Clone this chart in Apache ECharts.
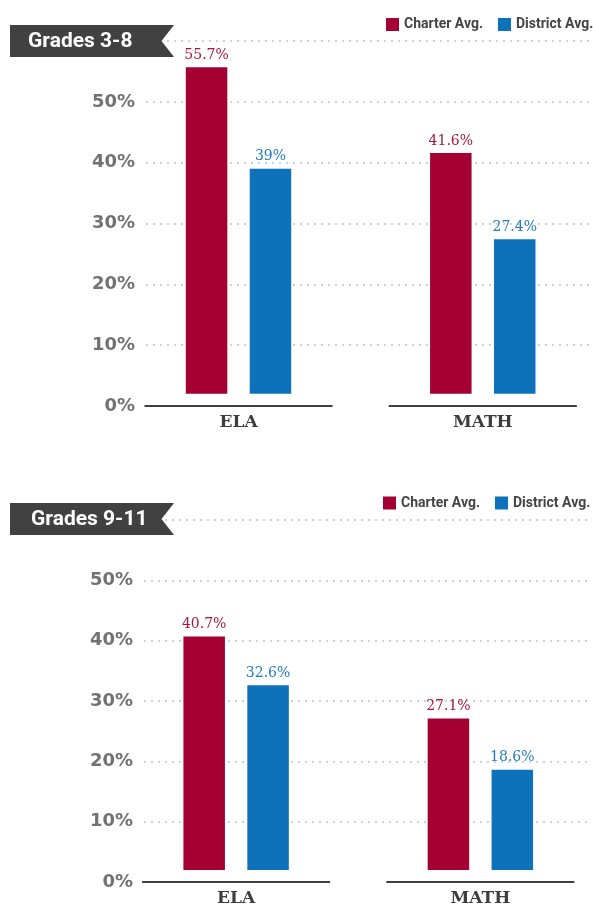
<!DOCTYPE html>
<html>
<head>
<meta charset="utf-8">
<script src="https://cdn.jsdelivr.net/npm/echarts@6/dist/echarts.min.js"></script>
<style>
  html, body { margin: 0; padding: 0; background: #fff; }
  #chart { width: 593px; height: 905px; }
</style>
</head>
<body>
<div id="chart"></div>
<script>
// data
const categories = ['ELA', 'MATH']
const yTicks = [0, 10, 20, 30, 40, 50, 60]
const charter38 = [55.7, 41.6]
const district38 = [39, 27.4]
const charter911 = [40.7, 27.1]
const district911 = [32.6, 18.6]
const BASE = 2 // bars start a little above the 0% line

const RED = '#a50034'
const BLUE = '#0e72bb'
const narrow = "Roboto, 'DejaVu Sans', sans-serif"

// one block = gridline grid + bar grid
function block(idx, gridTop, gridH, gridLeft, barLeft, charter, district) {
  const g = idx * 2
  const grids = [
    { left: gridLeft, right: 3, top: gridTop, height: gridH, outerBoundsMode: 'none' },
    { left: barLeft, width: 488.5, top: gridTop, height: gridH, outerBoundsMode: 'none' }
  ]
  const xAxes = [
    { gridIndex: g, type: 'value', min: 0, max: 1, show: false },
    {
      gridIndex: g + 1, type: 'category', data: categories,
      axisLine: { show: false }, axisTick: { show: false },
      axisLabel: {
        margin: 8, color: '#3d3d3d', fontSize: 17, fontWeight: 'bold',
        fontFamily: "'DejaVu Serif', serif"
      }
    }
  ]
  const yAxes = [
    {
      gridIndex: g, type: 'value', min: yTicks[0], max: yTicks[yTicks.length - 1], interval: 10,
      axisLine: { show: false }, axisTick: { show: false },
      axisLabel: {
        margin: 11, color: '#727272', fontSize: 18, fontWeight: 'bold',
        fontFamily: "'DejaVu Sans', sans-serif",
        formatter: v => (v === 60 ? '' : v + '%')
      },
      // no dotted line at 0%, the baseline segments sit there
      splitLine: { lineStyle: { color: yTicks.map(t => (t === 0 ? 'rgba(0,0,0,0)' : '#d2d2d2')), width: 2, type: [2, 5] } }
    },
    { gridIndex: g + 1, type: 'value', min: 0, max: 60, show: false }
  ]
  const xi = g + 1, yi = g + 1
  const lbl = (arr, color) => ({
    show: true, position: 'top', distance: 5, color: color, fontSize: 14,
    fontFamily: "'DejaVu Serif', serif",
    formatter: p => arr[p.dataIndex] + '%'
  })
  const series = [
    { type: 'bar', name: 'base', xAxisIndex: xi, yAxisIndex: yi, stack: 'c' + idx,
      data: charter.map(() => BASE), itemStyle: { color: 'transparent' }, silent: true,
      barWidth: 41.5, barGap: '54%' },
    { type: 'bar', name: 'Charter Avg.', xAxisIndex: xi, yAxisIndex: yi, stack: 'c' + idx,
      data: charter.map(v => v - BASE), itemStyle: { color: RED },
      barWidth: 41.5, barGap: '54%', label: lbl(charter, '#a8173f') },
    { type: 'bar', name: 'base', xAxisIndex: xi, yAxisIndex: yi, stack: 'd' + idx,
      data: district.map(() => BASE), itemStyle: { color: 'transparent' }, silent: true,
      barWidth: 41.5, barGap: '54%' },
    { type: 'bar', name: 'District Avg.', xAxisIndex: xi, yAxisIndex: yi, stack: 'd' + idx,
      data: district.map(v => v - BASE), itemStyle: { color: BLUE },
      barWidth: 41.5, barGap: '54%', label: lbl(district, '#1f7cc0') },
    {
      // the broken baseline under each category
      type: 'custom', xAxisIndex: xi, yAxisIndex: yi, silent: true, z: 5, clip: false,
      data: categories.map((c, i) => [i, 0]),
      renderItem: (params, api) => {
        const pt = api.coord([api.value(0), 0])
        const band = api.size([1, 0])[0]
        return {
          type: 'line',
          shape: { x1: pt[0] - band * 0.385, y1: pt[1], x2: pt[0] + band * 0.385, y2: pt[1] },
          style: { stroke: '#404040', lineWidth: 2 }
        }
      }
    }
  ]
  return { grids, xAxes, yAxes, series }
}

const b1 = block(0, 41, 365, 146, 116.4, charter38, district38)
const b2 = block(1, 520, 362, 144, 114, charter911, district911)

function badge(y, text, textX) {
  return [
    {
      type: 'polygon', z: 10,
      shape: { points: [[10, y], [174, y], [161.5, y + 16], [174, y + 32], [10, y + 32]] },
      style: { fill: '#414141' }
    },
    {
      type: 'text', z: 11, x: textX, y: y + 17,
      style: { text: text, fill: '#fff', fontSize: 21, fontWeight: 'bold', fontFamily: narrow, verticalAlign: 'middle' }
    }
  ]
}

const legendBase = {
  data: ['Charter Avg.', 'District Avg.'],
  orient: 'horizontal', width: 300,
  icon: 'rect', itemWidth: 13, itemHeight: 13, itemGap: 15, selectedMode: false,
  textStyle: { color: '#444', fontSize: 14, fontWeight: 'bold', fontFamily: narrow }
}

const chart = echarts.init(document.getElementById('chart'))
chart.setOption({
  animation: false,
  legend: [
    Object.assign({ left: 381, top: 12.5 }, legendBase),
    Object.assign({ left: 378, top: 491 }, legendBase)
  ],
  grid: b1.grids.concat(b2.grids),
  xAxis: b1.xAxes.concat(b2.xAxes),
  yAxis: b1.yAxes.concat(b2.yAxes),
  series: b1.series.concat(b2.series),
  graphic: badge(25, 'Grades 3-8', 28).concat(badge(503, 'Grades 9-11', 31))
})
</script>
</body>
</html>
